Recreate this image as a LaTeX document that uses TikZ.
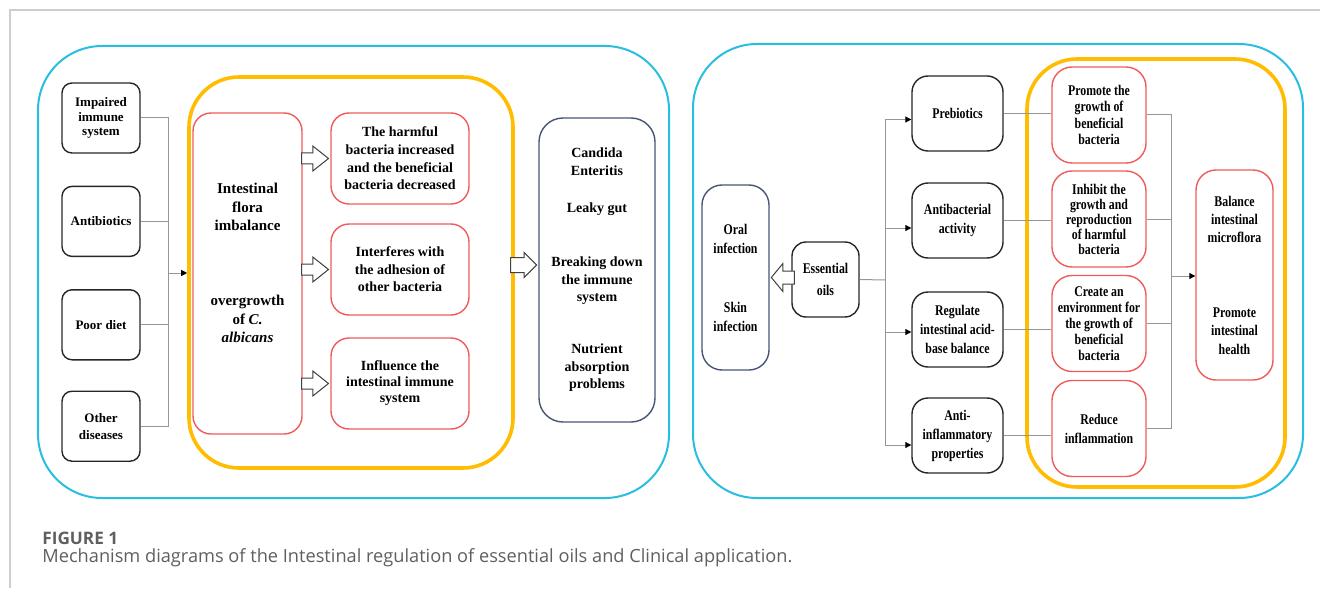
\documentclass[tikz,border=0pt]{standalone}
\usepackage{fontspec}
\setmainfont{Liberation Serif}
\newfontfamily\narrowserif[FakeStretch=0.8]{Liberation Serif}
\newfontfamily\capfont{Open Sans}
\usepackage{tikz}
\usetikzlibrary{positioning,shapes.arrows,arrows.meta}
\definecolor{panelblue}{RGB}{40,190,225}
\definecolor{groupgold}{RGB}{255,188,0}
\definecolor{effectred}{RGB}{240,90,90}
\definecolor{slate}{RGB}{70,85,115}
\definecolor{linkgray}{RGB}{150,150,150}
\definecolor{capgray}{RGB}{95,95,95}
\definecolor{framegray}{RGB}{205,205,205}

\begin{document}
\begin{tikzpicture}[x=0.5pt,y=-0.5pt,
    panel/.style={draw=panelblue,line width=1pt,rounded corners=32pt},
    group/.style={draw=groupgold,line width=1.8pt,rounded corners=25pt},
    cause/.style={draw=black!85,line width=0.7pt,rounded corners=5pt,align=center,inner sep=0pt,
      minimum width=39pt,minimum height=35pt,font=\fontsize{6.5}{7.3}\selectfont\bfseries},
    effect/.style={draw=effectred,line width=0.7pt,rounded corners=9pt,align=center,inner sep=0pt,
      minimum width=69pt,minimum height=45.5pt,font=\fontsize{7}{8.8}\selectfont\bfseries},
    outcome/.style={draw=slate,line width=0.7pt,rounded corners=12pt,align=center,inner sep=0pt,
      font=\fontsize{7}{8.8}\selectfont\bfseries},
    action/.style={draw=black!85,line width=0.7pt,rounded corners=8pt,align=center,inner sep=0pt,
      minimum width=45.5pt,minimum height=37.5pt,font=\narrowserif\fontsize{7.4}{9.5}\selectfont\bfseries},
    benefit/.style={draw=effectred,line width=0.7pt,rounded corners=10pt,align=center,inner sep=0pt,
      minimum width=47pt,minimum height=48pt,font=\narrowserif\fontsize{7.4}{8.2}\selectfont\bfseries},
    hollow/.style={single arrow,draw=black!75,line width=0.5pt,fill=white,inner xsep=0pt,inner ysep=2.5pt,
      single arrow head extend=3.5pt,single arrow tip angle=77,minimum height=13.5pt,anchor=tip},
    link/.style={draw=linkgray,line width=0.5pt},
    flow/.style={link,-{Triangle[length=3pt,width=3pt,color=black]}}]
  \useasboundingbox (0,0) rectangle (1320,588);
  \draw[framegray,line width=0.6pt] (1320,10) -- (10,10) -- (10,588);

  % left panel: causes of the imbalance and what follows
  \node[panel,minimum width=315.5pt,minimum height=226pt] (leftpanel) at (353.5,272) {};
  \node[group,minimum width=162pt,minimum height=195.5pt] (leftgroup) at (351,272.5) {};

  \node[cause] (impaired) at (101,118) {Impaired\\immune\\system};
  \node[cause] (antibiotics) [below=16pt of impaired] {Antibiotics};
  \node[cause] (diet) [below=16pt of antibiotics] {Poor diet};
  \node[cause,font=\fontsize{6.5}{8.5}\selectfont\bfseries] (diseases) [below=15pt of diet] {Other\\diseases};

  \coordinate (causebus) at (168,273);
  \foreach \n in {impaired,antibiotics,diet,diseases}
    \draw[link] (\n.east) -| (causebus);
  \draw[flow] (causebus) -- (causebus -| leftgroup.west);

  \node[effect,minimum width=54.5pt,minimum height=160.5pt,font=\fontsize{7.5}{9.3}\selectfont\bfseries] (flora) at (247.5,273.5)
    {Intestinal\\flora\\imbalance\\[28pt]overgrowth\\of \textit{C.}\\\textit{albicans}\\[1.2pt]\mbox{}};
  \node[effect] (harm) at (400,158.5) {The harmful\\bacteria increased\\and the beneficial\\bacteria decreased};
  \node[effect] (adhesion) at (400,269.5) {Interferes with\\the adhesion of\\other bacteria};
  \node[effect,font=\fontsize{7}{8}\selectfont\bfseries] (immunity) at (400,383.5) {Influence the\\intestinal immune\\system};
  \foreach \n in {harm,adhesion,immunity}
    \node[hollow] (\n arrow) at ([xshift=-0.5pt]\n.west) {};

  \node[outcome,minimum width=58pt,minimum height=152pt] (disease) at (597,270)
    {Candida\\Enteritis\\[9.5pt]Leaky gut\\[18.5pt]Breaking down\\the immune\\system\\[17pt]Nutrient\\absorption\\problems};
  \node[hollow,inner ysep=3.5pt,single arrow head extend=2.5pt,single arrow tip angle=90,minimum height=13pt]
    (diseasearrow) at ([xshift=-0.5pt,yshift=2.5pt]disease.west) {};

  % right panel: what essential oils do
  \node[panel,minimum width=305pt,minimum height=227pt] (rightpanel) at (998,271) {};
  \node[group,minimum width=129pt,minimum height=214pt] (rightgroup) at (1156,273) {};

  \node[outcome,minimum width=33.5pt,minimum height=92.5pt,rounded corners=10pt,font=\narrowserif\fontsize{7.4}{9.5}\selectfont\bfseries]
    (infection) at (735.5,277.5) {Oral\\infection\\[20pt]Skin\\infection};
  \node[cause,minimum width=33.5pt,minimum height=37.5pt,rounded corners=7pt,font=\narrowserif\fontsize{7.4}{11}\selectfont\bfseries]
    (oils) at (825.5,279.5) {Essential\\oils};
  \node[hollow,shape border rotate=180,inner ysep=3pt,single arrow head extend=3.75pt,single arrow tip angle=101,minimum height=11.5pt]
    (oilsarrow) at ([xshift=0.5pt]infection.east) {};

  \node[action] (prebiotics) at (957.5,113.5) {Prebiotics};
  \node[action] (antibacterial) at (957.5,220.5) {Antibacterial\\activity};
  \node[action] (acidbase) at (957.5,329.5) {Regulate\\intestinal acid-\\base balance};
  \node[action] (antiinflam) at (957.5,435.5) {Anti-\\inflammatory\\properties};

  \coordinate (oilbus) at (885,280);
  \draw[link] (oils.east) -- (oilbus);
  \foreach \n/\s in {prebiotics/-3pt,antibacterial/-3.75pt,acidbase/-1.25pt,antiinflam/-4.75pt}
    \draw[flow] (oilbus) |- ([yshift=\s]\n.west);

  \node[benefit,font=\narrowserif\fontsize{7.4}{8.3}\selectfont\bfseries] (promote) at (1099,115) {Promote the\\growth of\\beneficial\\bacteria};
  \node[benefit,font=\narrowserif\fontsize{7.4}{7.5}\selectfont\bfseries] (inhibit) at (1099,219) {Inhibit the\\growth and\\reproduction\\of harmful\\bacteria};
  \node[benefit,font=\narrowserif\fontsize{7.4}{8}\selectfont\bfseries] (environment) at (1099,323.5) {Create an\\environment for\\the growth of\\beneficial\\bacteria};
  \node[benefit,font=\narrowserif\fontsize{7.4}{9.5}\selectfont\bfseries] (inflammation) at (1099,428.5) {Reduce\\inflammation};

  \foreach \a/\b in {prebiotics/promote,antibacterial/inhibit,acidbase/environment,antiinflam/inflammation}
    \draw[link] (\a.east) -- (\a.east -| \b.west);

  \node[benefit,minimum width=38.5pt,minimum height=105pt,font=\narrowserif\fontsize{7.4}{9.2}\selectfont\bfseries]
    (balance) at (1234.5,275) {Balance\\intestinal\\microflora\\[28pt]Promote\\intestinal\\health};
  \coordinate (benefitbus) at (1171,276);
  \foreach \n in {promote,inhibit,environment,inflammation}
    \draw[link] (\n.east) -| (benefitbus);
  \draw[flow] (benefitbus) -- (benefitbus -| balance.west);

  % caption
  \node[anchor=base west,inner sep=0pt,text=capgray,font=\capfont\bfseries\fontsize{8.6}{10}\selectfont] (figlabel) at (42,544) {FIGURE 1};
  \node[anchor=base west,inner sep=0pt,text=capgray,font=\capfont\fontsize{9.1}{10}\selectfont] (caption) at (42,562)
    {Mechanism diagrams of the Intestinal regulation of essential oils and Clinical application.};
\end{tikzpicture}
\end{document}
